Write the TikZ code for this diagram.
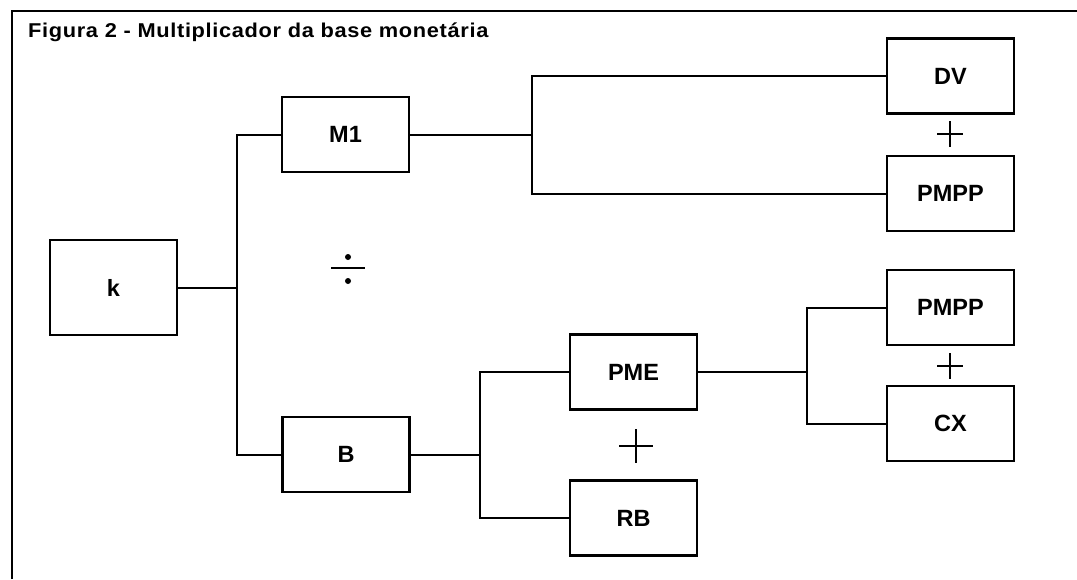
\documentclass[tikz,border=0pt]{standalone}
\usepackage{fontspec}
\usepackage{graphicx}
\setmainfont{Liberation Sans}
\begin{document}
\begin{tikzpicture}[x=1pt,y=-1pt,
  blk/.style={draw=black,line width=2.2pt,minimum width=127pt,minimum height=75pt,inner sep=0pt,font=\fontsize{23.5}{27}\selectfont\bfseries},
  conn/.style={line width=2pt},
  sym/.style={line width=2pt}]
\useasboundingbox (0,0) rectangle (1077,579);
% frame
\draw[line width=2pt] (12,579) -- (12,11) -- (1077,11);
% title
\node[anchor=base west,inner sep=0pt] (title) at (28,37)
  {\scalebox{1.09}[1]{\fontsize{20}{24}\selectfont\bfseries\addfontfeatures{LetterSpace=3}Figura 2 - Multiplicador da base monetária}};
% boxes
\node[blk,minimum height=95pt] (k) at (113.5,287.5) {k};
\node[blk] (M1) at (345.5,134.5) {M1};
\node[blk] (B) at (346,454.5) {B};
\node[blk] (PME) at (633.5,372) {PME};
\node[blk] (RB) at (633.5,518) {RB};
\node[blk] (DV) at (950.5,76) {DV};
\node[blk] (PMPPa) at (950.5,193.5) {PMPP};
\node[blk] (PMPPb) at (950.5,307.5) {PMPP};
\node[blk] (CX) at (950.5,423.5) {CX};
% junctions
\coordinate (j1) at (237,287.5);
\coordinate (j2) at (532,134.5);
\coordinate (j3) at (480,454.5);
\coordinate (j4) at (807,372);
% connectors
\draw[conn] (k.east) -- (j1);
\draw[conn] (M1.west) -| (j1) |- (B.west);
\draw[conn] (M1.east) -- (j2);
\draw[conn] (DV.west) -| (j2) |- (PMPPa.west);
\draw[conn] (B.east) -- (j3);
\draw[conn] (PME.west) -| (j3) |- (RB.west);
\draw[conn] (PME.east) -- (j4);
\draw[conn] (PMPPb.west) -| (j4) |- (CX.west);
% plus signs
\draw[sym] (937,134) -- (963,134) (950,121) -- (950,147);
\draw[sym] (937,366) -- (963,366) (950,353) -- (950,379);
\draw[sym] (619,446) -- (653,446) (636,429) -- (636,463);
% division sign
\draw[sym] (331,268) -- (365,268);
\fill (348,257) circle (3pt);
\fill (348,281) circle (3pt);
\end{tikzpicture}
\end{document}
